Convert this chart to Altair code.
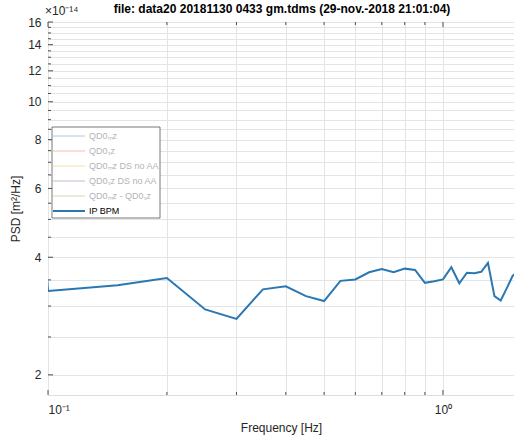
import altair as alt
import pandas as pd

# ---- data (PSD in units of 1e-14 m^2/Hz) ----
freq = [0.0995, 0.10, 0.15, 0.20, 0.25, 0.30, 0.35, 0.40, 0.45, 0.50, 0.55,
        0.60, 0.65, 0.70, 0.75, 0.80, 0.85, 0.90, 0.95, 1.00, 1.05, 1.10,
        1.15, 1.20, 1.25, 1.30, 1.35, 1.40, 1.45, 1.50, 1.55]
psd = [3.51, 3.28, 3.39, 3.54, 2.94, 2.78, 3.31, 3.37, 3.18, 3.09, 3.48,
       3.51, 3.66, 3.73, 3.66, 3.74, 3.71, 3.44, 3.47, 3.51, 3.77, 3.43,
       3.65, 3.64, 3.67, 3.87, 3.18, 3.10, 3.33, 3.58, 3.70]

x_ticks = [0.1, 0.2, 0.3, 0.4, 0.5, 0.6, 0.7, 0.8, 0.9, 1.0]
x_major = [0.1, 1.0]
y_ticks = [2, 2.5, 3, 3.5, 4, 4.5, 5, 5.5, 6, 6.5, 7, 7.5, 8, 8.5, 9, 9.5,
           10, 10.5, 11, 11.5, 12, 12.5, 13, 13.5, 14, 14.5, 15, 15.5, 16]
y_major = [2, 4, 6, 8, 10, 12, 14, 16]

legend_labels = ["QD0\u2098z", "QD0\u209bz", "QD0\u2098z DS no AA",
                 "QD0\u209bz DS no AA", "QD0\u2098z - QD0\u209bz", "IP BPM"]
legend_colors = ["#a9cbe6", "#f2bfae", "#f3dfa6", "#c9b3d0", "#c9deb0", "#2a78b3"]
legend_text_colors = ["#b3b3b3"] * 5 + ["#000000"]

title_text = "file: data20 20181130 0433 gm.tdms (29-nov.-2018 21:01:04)"

W, H = 466, 373
FONT = "Liberation Sans"
AX = "#262626"

xscale = alt.Scale(type="log", domain=[0.1, 1.513], nice=False)
yscale = alt.Scale(type="log", domain=[1.776, 16], nice=False, zero=False)

xaxis = alt.Axis(values=x_ticks, grid=True, gridColor="#e4e4e4",
                 tickSize=0, domain=False, labelPadding=9,
                 labelExpr="datum.value == 0.1 ? '10\u207b\u00b9' : (datum.value == 1 ? '10\u2070' : '')",
                 labelFontSize=12, labelColor=AX, labelFont=FONT,
                 labelOverlap=False, title="Frequency [Hz]",
                 titleFontSize=12, titleFontWeight="normal",
                 titleColor=AX, titleFont=FONT, titlePadding=7)
yaxis = alt.Axis(values=y_ticks, grid=True, gridColor="#e4e4e4",
                 tickSize=0, domain=False, labelPadding=7,
                 labelExpr="datum.value % 2 == 0 ? datum.value : ''",
                 labelFontSize=12, labelColor=AX, labelFont=FONT,
                 labelOverlap=False, title="PSD [m\u00b2/Hz]",
                 titleFontSize=12, titleFontWeight="normal",
                 titleColor=AX, titleFont=FONT, titlePadding=5)

df = pd.DataFrame({"f": freq, "psd": psd})

line = alt.Chart(df).mark_line(color="#2a78b3", strokeWidth=2, clip=True).encode(
    x=alt.X("f:Q", scale=xscale, axis=xaxis),
    y=alt.Y("psd:Q", scale=yscale, axis=yaxis),
)

ydf = pd.DataFrame({"psd": y_ticks, "major": [v in y_major for v in y_ticks]})
xdf = pd.DataFrame({"f": x_ticks, "major": [v in x_major for v in x_ticks]})

ytick_minor = alt.Chart(ydf[~ydf.major]).mark_rule(color=AX, strokeWidth=0.8).encode(
    y=alt.Y("psd:Q", scale=yscale, axis=yaxis), x=alt.value(0), x2=alt.value(3))
ytick_major = alt.Chart(ydf[ydf.major]).mark_rule(color=AX, strokeWidth=0.8).encode(
    y=alt.Y("psd:Q", scale=yscale, axis=yaxis), x=alt.value(0), x2=alt.value(5))
xtick_minor_b = alt.Chart(xdf[~xdf.major]).mark_rule(color=AX, strokeWidth=0.8).encode(
    x=alt.X("f:Q", scale=xscale, axis=xaxis), y=alt.value(H), y2=alt.value(H - 3))
xtick_major_b = alt.Chart(xdf[xdf.major]).mark_rule(color=AX, strokeWidth=0.8).encode(
    x=alt.X("f:Q", scale=xscale, axis=xaxis), y=alt.value(H), y2=alt.value(H - 5))
xtick_minor_t = alt.Chart(xdf[~xdf.major]).mark_rule(color=AX, strokeWidth=0.8).encode(
    x=alt.X("f:Q", scale=xscale, axis=xaxis), y=alt.value(0), y2=alt.value(3))
xtick_major_t = alt.Chart(xdf[xdf.major]).mark_rule(color=AX, strokeWidth=0.8).encode(
    x=alt.X("f:Q", scale=xscale, axis=xaxis), y=alt.value(0), y2=alt.value(5))

one = alt.Data(values=[{"a": 1}])

exponent = alt.Chart(one).mark_text(
    text="\u00d710\u207b\u00b9\u2074", font=FONT, fontSize=12, color=AX,
    align="left", baseline="middle").encode(x=alt.value(-3), y=alt.value(-11))

title_mark = alt.Chart(one).mark_text(
    text=title_text, font=FONT, fontSize=12, fontWeight="bold", color="#000000",
    align="center", baseline="middle").encode(x=alt.value(W / 2 + 1), y=alt.value(-13))

legend_box = alt.Chart(one).mark_rect(fill="white", stroke="#555555", strokeWidth=0.8).encode(
    x=alt.value(4), x2=alt.value(112), y=alt.value(105), y2=alt.value(196))

layers = [line, ytick_minor, ytick_major, xtick_minor_b, xtick_major_b,
          xtick_minor_t, xtick_major_t, exponent, title_mark, legend_box]

for i, (lab, col, tcol) in enumerate(zip(legend_labels, legend_colors, legend_text_colors)):
    yy = 114 + 15 * i
    sw = 2 if i == 5 else 1
    layers.append(alt.Chart(one).mark_rule(color=col, strokeWidth=sw).encode(
        x=alt.value(5), x2=alt.value(37), y=alt.value(yy)))
    layers.append(alt.Chart(one).mark_text(
        text=lab, font=FONT, fontSize=9, color=tcol, align="left",
        baseline="middle").encode(x=alt.value(41), y=alt.value(yy)))

chart = alt.layer(*layers).properties(
    width=W, height=H,
    autosize=alt.AutoSizeParams(type="none"),
    padding={"left": 48, "top": 22, "right": 0, "bottom": 40},
).configure_view(stroke=AX, strokeWidth=0.8).configure(background="white")

chart.save("out.html", embed_options={"renderer": "svg", "actions": False})
